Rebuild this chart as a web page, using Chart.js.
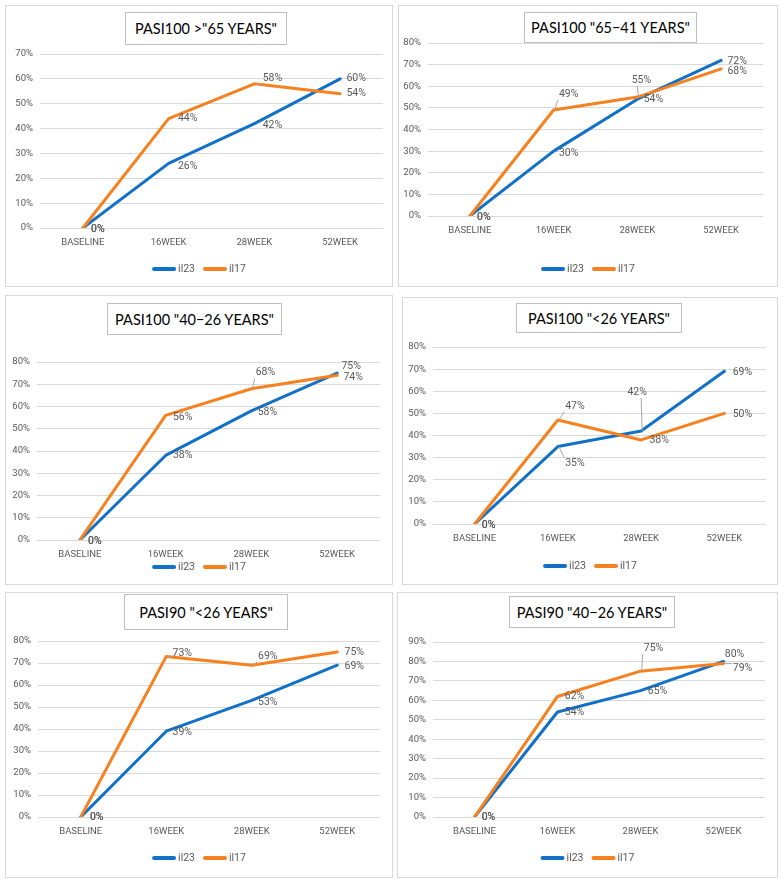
<!DOCTYPE html>
<html>
<head>
<meta charset="utf-8">
<script src="https://cdn.jsdelivr.net/npm/chart.js@4.4.0/dist/chart.umd.min.js"></script>
<style>
  body { margin: 0; background: #fff; width: 782px; height: 885px; position: relative; overflow: hidden; }
  .panel { position: absolute; border: 1px solid #d9d9d9; box-sizing: border-box; background: #fff; }
  .panel canvas { position: absolute; left: 0; top: 0; }
  .ttl { position: absolute; border: 1px solid #bfbfbf; box-sizing: border-box; background: #fff;
         font: 14.5px Lato, "Open Sans", sans-serif; color: #000; display: flex;
         align-items: center; justify-content: center; white-space: nowrap; }
</style>
</head>
<body>
<script>
// categories and series
const weekLabels = ['BASELINE', '16WEEK', '28WEEK', '52WEEK'];
const seriesNames = ['il23', 'il17'];
const chartTitles = [
  'PASI100 >"65 YEARS"',
  'PASI100 "65\u221241 YEARS"',
  'PASI100 "40\u221226 YEARS"',
  'PASI100 "<26 YEARS"',
  'PASI90 "<26 YEARS"',
  'PASI90 "40\u221226 YEARS"'
];

// values in percent
const pasi100Over65Il23 = [0, 26, 42, 60];
const pasi100Over65Il17 = [0, 44, 58, 54];
const pasi100Age41to65Il23 = [0, 30, 54, 72];
const pasi100Age41to65Il17 = [0, 49, 55, 68];
const pasi100Age26to40Il23 = [0, 38, 58, 75];
const pasi100Age26to40Il17 = [0, 56, 68, 74];
const pasi100Under26Il23 = [0, 35, 42, 69];
const pasi100Under26Il17 = [0, 47, 38, 50];
const pasi90Under26Il23 = [0, 39, 53, 69];
const pasi90Under26Il17 = [0, 73, 69, 75];
const pasi90Age26to40Il23 = [0, 54, 65, 80];
const pasi90Age26to40Il17 = [0, 62, 75, 79];

// y axis top tick per chart (step 10%)
const yAxisMax = [70, 80, 80, 80, 80, 90];

const seriesPerChart = [
  [pasi100Over65Il23, pasi100Over65Il17],
  [pasi100Age41to65Il23, pasi100Age41to65Il17],
  [pasi100Age26to40Il23, pasi100Age26to40Il17],
  [pasi100Under26Il23, pasi100Under26Il17],
  [pasi90Under26Il23, pasi90Under26Il17],
  [pasi90Age26to40Il23, pasi90Age26to40Il17]
];

const colors = ['#1170c8', '#f7801f'];
const tickFont = 'Roboto, "Liberation Sans", sans-serif';

// page layout: panel box, title box, plot area edges, legend line
const layout = [
  { box: [5, 5, 388, 282], title: [125, 12, 162, 33], plot: [40, 383, 54, 228], legendY: 269 },
  { box: [398, 5, 380, 282], title: [524, 12, 173, 31], plot: [428, 763, 43, 216], legendY: 269 },
  { box: [5, 295, 388, 290], title: [107, 303, 175, 32], plot: [37, 380, 362, 540], legendY: 567 },
  { box: [402, 297, 376, 288], title: [516, 303, 166, 30], plot: [433, 766, 347, 524], legendY: 566 },
  { box: [5, 592, 388, 286], title: [124, 594, 164, 36], plot: [38, 380, 641, 817], legendY: 858 },
  { box: [397, 592, 381, 286], title: [509, 596, 166, 32], plot: [433, 765, 642, 817], legendY: 858 }
];

// data label placement relative to the point: [dx, dy, leader]
const labelPlacement = [
  [[[15, 1], [19, 3], [18, 2], [16, 0]], [[15, 1], [19, 0], [18, -5, 1], [16, 0]]],
  [[[14, 1], [15, 2], [16, 0], [16, 1]], [[14, 1], [15, -16, 1], [4, -17, 1], [16, 2]]],
  [[[15, 1], [17, 0], [16, 1], [14, -7]], [[15, 1], [17, 2], [14, -16, 1], [16, 2]]],
  [[[14, 1], [17, 17, 1], [-4, -39, 1], [18, 1]], [[14, 1], [17, -14, 1], [18, 0], [18, 1]]],
  [[[16, 0], [16, 1], [16, 2], [17, 1]], [[16, 0], [16, -3, 1], [16, -9, 1], [17, 0]]],
  [[[14, 0], [17, 0], [17, 1], [11, -7]], [[14, 0], [17, 0], [13, -23, 1], [19, 5, 1]]]
];

const pointLabels = {
  id: 'pointLabels',
  afterDatasetsDraw(chart, args, opts) {
    const ctx = chart.ctx;
    ctx.save();
    ctx.font = '10.5px ' + tickFont;
    ctx.textAlign = 'center';
    ctx.textBaseline = 'middle';
    chart.data.datasets.forEach((ds, di) => {
      chart.getDatasetMeta(di).data.forEach((pt, i) => {
        const p = opts.place[di][i];
        const text = ds.data[i] + '%';
        const tx = pt.x + p[0], ty = pt.y + p[1];
        if (p[2]) {
          const hw = ctx.measureText(text).width / 2 + 1, hh = 6;
          const ex = Math.min(Math.max(pt.x, tx - hw), tx + hw);
          const ey = Math.min(Math.max(pt.y, ty - hh), ty + hh);
          ctx.strokeStyle = '#a6a6a6';
          ctx.lineWidth = 1;
          ctx.beginPath();
          ctx.moveTo(pt.x + 1, pt.y);
          ctx.lineTo(ex, ey);
          ctx.stroke();
        }
        ctx.fillStyle = '#595959';
        ctx.fillText(text, tx, ty);
      });
    });
    ctx.restore();
  }
};

const lineLegend = {
  id: 'lineLegend',
  afterDraw(chart, args, opts) {
    const ctx = chart.ctx;
    ctx.save();
    ctx.font = '10.5px ' + tickFont;
    ctx.textBaseline = 'middle';
    const sample = 24, gap = 2, spacing = 8;
    const items = chart.data.datasets.map(ds => ({ ds, w: sample + gap + ctx.measureText(ds.label).width }));
    const total = items.reduce((a, it) => a + it.w, 0) + spacing * (items.length - 1);
    let x = chart.width / 2 - total / 2;
    const y = opts.y;
    items.forEach(it => {
      ctx.strokeStyle = it.ds.borderColor;
      ctx.lineWidth = 4;
      ctx.lineCap = 'round';
      ctx.beginPath();
      ctx.moveTo(x + 2, y);
      ctx.lineTo(x + sample - 2, y);
      ctx.stroke();
      ctx.fillStyle = '#595959';
      ctx.fillText(it.ds.label, x + sample + gap, y);
      x += it.w + spacing;
    });
    ctx.restore();
  }
};

const X_AXIS_H = 20;

layout.forEach((L, k) => {
  const [bx, by, bw, bh] = L.box;
  const panel = document.createElement('div');
  panel.className = 'panel';
  Object.assign(panel.style, { left: bx + 'px', top: by + 'px', width: bw + 'px', height: bh + 'px' });
  document.body.appendChild(panel);

  const cw = bw - 2, ch = bh - 2;
  const ox = bx + 1, oy = by + 1;
  const canvas = document.createElement('canvas');
  canvas.width = cw;
  canvas.height = ch;
  canvas.style.width = cw + 'px';
  canvas.style.height = ch + 'px';
  panel.appendChild(canvas);

  const [tx, ty, tw, th] = L.title;
  const ttl = document.createElement('div');
  ttl.className = 'ttl';
  ttl.textContent = chartTitles[k];
  Object.assign(ttl.style, { left: (tx - ox) + 'px', top: (ty - oy) + 'px', width: tw + 'px', height: th + 'px' });
  panel.appendChild(ttl);

  const [pl, pr, pt, pb] = L.plot;
  const yAxisW = pl - ox;
  new Chart(canvas, {
    type: 'line',
    data: {
      labels: weekLabels,
      datasets: seriesNames.map((name, i) => ({
        label: name,
        data: seriesPerChart[k][i],
        borderColor: colors[i],
        backgroundColor: colors[i],
        borderWidth: 3,
        pointRadius: 0,
        tension: 0,
        borderJoinStyle: 'round',
        borderCapStyle: 'round',
        order: i === 0 ? 1 : 0
      }))
    },
    options: {
      responsive: false,
      animation: false,
      devicePixelRatio: 1,
      layout: {
        padding: {
          left: 0,
          right: ox + cw - pr,
          top: pt - oy,
          bottom: ch - (pb - oy) - X_AXIS_H
        }
      },
      plugins: {
        legend: { display: false },
        tooltip: { enabled: false },
        pointLabels: { place: labelPlacement[k] },
        lineLegend: { y: L.legendY - oy }
      },
      scales: {
        x: {
          offset: true,
          grid: { display: false, drawTicks: false },
          border: { display: false },
          ticks: { color: '#595959', font: { family: tickFont, size: 9.5 }, padding: 9, maxRotation: 0 },
          afterFit(s) { s.height = X_AXIS_H; }
        },
        y: {
          min: 0,
          max: yAxisMax[k],
          grid: { color: '#d9d9d9', lineWidth: 1, drawTicks: false },
          border: { display: false },
          ticks: { stepSize: 10, color: '#595959', font: { family: tickFont, size: 9.5 }, padding: 7,
                   callback: v => v + '%' },
          afterFit(s) { s.width = yAxisW; }
        }
      }
    },
    plugins: [pointLabels, lineLegend]
  });
});
</script>
</body>
</html>
